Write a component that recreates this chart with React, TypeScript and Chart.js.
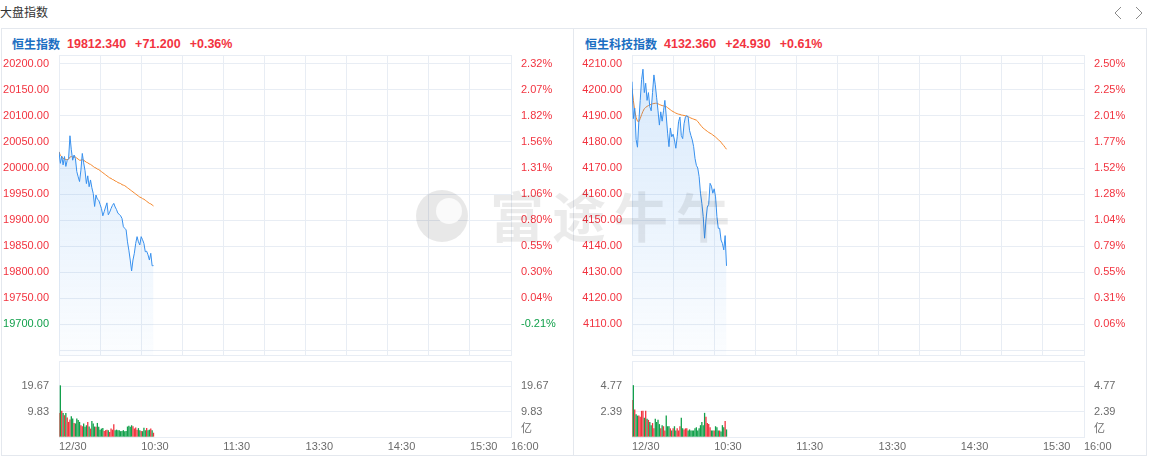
import React, { useEffect, useRef } from 'react';
import { Chart, registerables } from 'chart.js';

Chart.register(...registerables);

// ---------- shared axis data ----------
const sessionMinutes = 330; // 9:30-12:00 + 13:00-16:00
const gridStepMinutes = 30;
const timeTickMinutes = [0, 60, 120, 180, 240, 300, 330];
const timeTickLabels = ['12/30', '10:30', '11:30', '13:30', '14:30', '15:30', '16:00'];

// ---------- 恒生指数 ----------
const hsiName = '恒生指数';
const hsiLast = 19812.34;
const hsiChange = 71.2;
const hsiPriceTicks = [19700, 19750, 19800, 19850, 19900, 19950, 20000, 20050, 20100, 20150, 20200];
const hsiPriceMin = 19640.4;
const hsiPriceMax = 20217.3;
const hsiVolumeMax = 29.5;
const hsiPrice = [
  20031, 20009, 20023, 20006, 20022, 20003, 20015, 20018, 20062, 20035,
  20015, 20025, 20018, 19993, 19983, 19974, 19996, 20028, 20010, 19995,
  19970, 19985, 19964, 19977, 19962, 19951, 19926, 19948, 19940, 19938,
  19930, 19922, 19908, 19916, 19925, 19933, 19910, 19915, 19922, 19928,
  19932, 19925, 19920, 19913, 19911, 19908, 19903, 19887, 19884, 19881,
  19858, 19842, 19823, 19802, 19823, 19836, 19855, 19868, 19858, 19852,
  19868, 19862, 19855, 19839, 19840, 19833, 19823, 19836, 19812, 19812.34,
];
const hsiAvg = [
  20031, 20024, 20022, 20018, 20018, 20016, 20016, 20017, 20021, 20022,
  20021, 20021, 20021, 20019, 20017, 20015, 20015, 20016, 20015, 20013,
  20011, 20010, 20008, 20007, 20005, 20003, 20001, 20000, 19998, 19997,
  19995, 19993, 19991, 19989, 19987, 19985, 19983, 19981, 19980, 19978,
  19977, 19975, 19974, 19972, 19971, 19970, 19968, 19967, 19966, 19964,
  19962, 19960, 19958, 19956, 19954, 19952, 19950, 19948, 19946, 19944,
  19943, 19941, 19940, 19938, 19936, 19934, 19932, 19931, 19929, 19927,
];
const hsiVolume = [
  9.3, 20.0, 10.1, 9.3, 8.4, 9.3, 7.5, 5.8, 6.7, 8.0,
  7.1, 5.4, 5.2, 7.1, 6.5, 5.8, 4.5, 4.1, 5.2, 3.9,
  4.5, 5.8, 4.0, 3.2, 6.2, 5.2, 4.0, 3.9, 5.4, 3.9,
  2.8, 3.2, 3.4, 2.3, 2.6, 2.8, 2.6, 1.9, 3.2, 2.8,
  4.9, 2.6, 2.8, 2.6, 2.6, 2.2, 2.3, 2.6, 2.2, 2.3,
  4.0, 4.3, 3.9, 4.5, 4.1, 3.2, 3.6, 2.8, 3.4, 2.6,
  2.3, 2.2, 3.5, 2.6, 3.4, 2.6, 2.8, 3.2, 2.6, 1.6,
];

// ---------- 恒生科技指数 ----------
const hstName = '恒生科技指数';
const hstLast = 4132.36;
const hstChange = 24.93;
const hstPriceTicks = [4110, 4120, 4130, 4140, 4150, 4160, 4170, 4180, 4190, 4200, 4210];
const hstPriceMin = 4098.08;
const hstPriceMax = 4213.46;
const hstVolumeMax = 7.16;
const hstPrice = [
  4203.2, 4189, 4193, 4181, 4178, 4188, 4196, 4204, 4208, 4199,
  4202.6, 4196, 4199, 4193.6, 4192, 4199, 4205.8, 4202, 4197, 4192,
  4186.5, 4191.6, 4188, 4192, 4196, 4190, 4183.4, 4178.2, 4185.4, 4182,
  4183, 4180.8, 4177.6, 4182, 4187.8, 4189.6, 4182.5, 4181.3, 4187, 4189.6,
  4190.2, 4189.6, 4184.5, 4182.5, 4180.8, 4178.2, 4173.7, 4171, 4170, 4166.7,
  4160.3, 4156.4, 4151.3, 4143, 4150, 4155, 4156, 4164.1, 4163, 4160.3,
  4162, 4158.9, 4151.3, 4146.8, 4146.8, 4142.3, 4141, 4138.5, 4144, 4132.36,
];
const hstAvg = [
  4200.6, 4196, 4192, 4189.5, 4188, 4187.8, 4189, 4190.5, 4191.8, 4192.8,
  4193.3, 4193.7, 4194, 4194.3, 4194.5, 4194.7, 4194.8, 4194.9, 4194.9, 4194.7,
  4194.4, 4194.2, 4194, 4193.9, 4193.7, 4193.6, 4193.2, 4192.8, 4192.4, 4192,
  4191.7, 4191.4, 4191.1, 4190.9, 4190.7, 4190.6, 4190.4, 4190.3, 4190.2, 4190.1,
  4189.9, 4189.7, 4189.5, 4189.2, 4189, 4188.8, 4188.6, 4188.4, 4187.9, 4187.2,
  4186.5, 4185.9, 4185.3, 4184.9, 4184.5, 4184.1, 4183.7, 4183.4, 4183.1, 4182.7,
  4182.3, 4181.9, 4181.4, 4180.9, 4180.5, 4179.9, 4179.2, 4178.6, 4177.9, 4177.2,
];
const hstVolume = [
  3.46, 4.87, 2.58, 2.14, 2.0, 2.0, 1.9, 2.45, 2.45, 1.8,
  2.45, 1.7, 1.6, 1.4, 1.1, 1.3, 0.8, 1.7, 1.4, 1.6,
  1.2, 0.8, 1.1, 1.0, 0.6, 2.0, 1.0, 1.0, 0.8, 0.6,
  0.8, 1.0, 0.6, 0.8, 0.6, 1.0, 1.8, 0.8, 0.7, 0.8,
  0.8, 0.6, 0.7, 0.6, 0.6, 0.6, 0.8, 0.9, 0.6, 0.8,
  1.1, 1.4, 1.1, 2.26, 1.9, 1.3, 1.2, 0.9, 0.6, 0.6,
  0.6, 1.0, 0.9, 0.6, 0.6, 0.5, 1.1, 0.9, 1.5, 0.7,
];

// ---------- styles ----------
const RED = '#f2333f';
const GREEN = '#12a04b';
const BLUE_TEXT = '#1b6ec2';
const GRID = '#e8edf4';
const AXIS_GRAY = '#6b6b6b';
const LINE_BLUE = '#3790ee';
const LINE_ORANGE = '#f4862a';
const NUM_FONT = '"Liberation Sans", Arial, "Noto Sans CJK SC", sans-serif';
const CJK_FONT = '"Noto Sans CJK SC", "Liberation Sans", sans-serif';

const PANEL_W = 573;
const LEFT_AXIS_W = 59;
const RIGHT_AXIS_W = 62;

Chart.defaults.font.family = NUM_FONT;
Chart.defaults.font.size = 11;

const fixWidth = (w: number) => (s: any) => {
  s.width = w;
  s.paddingTop = 0;
  s.paddingBottom = 0;
  s.paddingLeft = 0;
  s.paddingRight = 0;
};
const fixHeight = (h: number) => (s: any) => {
  s.height = h;
  s.paddingTop = 0;
  s.paddingBottom = 0;
  s.paddingLeft = 0;
  s.paddingRight = 0;
};

type PanelProps = {
  left: number;
  name: string;
  last: number;
  change: number;
  price: number[];
  avg: number[];
  volume: number[];
  priceTicks: number[];
  priceMin: number;
  priceMax: number;
  volumeMax: number;
};

function Panel(p: PanelProps) {
  const priceRef = useRef<HTMLCanvasElement>(null);
  const volRef = useRef<HTMLCanvasElement>(null);
  const prevClose = p.last - p.change;
  const pctChange = (p.change / prevClose) * 100;

  useEffect(() => {
    const gridMinutes: number[] = [];
    for (let m = 0; m <= sessionMinutes; m += gridStepMinutes) gridMinutes.push(m);
    const step = p.priceTicks[1] - p.priceTicks[0];
    const priceAxisValues = [p.priceMin, p.priceTicks[0] - step, ...p.priceTicks, p.priceMax];
    const isEdge = (v: number) => v < p.priceTicks[0] - 1e-6 || v > p.priceTicks[p.priceTicks.length - 1] + 1e-6;
    const priceColor = (v: number) => (v >= prevClose ? RED : GREEN);

    const priceChart = new Chart(priceRef.current!, {
      type: 'line',
      data: {
        datasets: [
          {
            data: p.price.map((v, i) => ({ x: i, y: v })),
            borderColor: LINE_BLUE,
            borderWidth: 1,
            pointRadius: 0,
            tension: 0,
            fill: 'start',
            backgroundColor: (ctx: any) => {
              const area = ctx.chart.chartArea;
              if (!area) return 'rgba(55,144,238,0.1)';
              const g = ctx.chart.ctx.createLinearGradient(0, area.top, 0, area.bottom);
              g.addColorStop(0, 'rgba(55,144,238,0.2)');
              g.addColorStop(1, 'rgba(55,144,238,0.02)');
              return g;
            },
          },
          {
            data: p.avg.map((v, i) => ({ x: i, y: v })),
            borderColor: LINE_ORANGE,
            borderWidth: 1,
            pointRadius: 0,
            tension: 0,
            fill: false,
          },
        ],
      },
      options: {
        animation: false,
        responsive: false,
        maintainAspectRatio: false,
        events: [],
        layout: { autoPadding: false, padding: { top: 1, bottom: 2, left: 0, right: 0 } },
        plugins: { legend: { display: false }, tooltip: { enabled: false } },
        scales: {
          x: {
            type: 'linear',
            min: 0,
            max: sessionMinutes,
            afterBuildTicks: (s: any) => {
              s.ticks = gridMinutes.map((v) => ({ value: v }));
            },
            ticks: { display: false },
            grid: { color: GRID, drawTicks: false },
            border: { display: false },
            afterFit: fixHeight(0),
          },
          y: {
            position: 'left',
            min: p.priceMin,
            max: p.priceMax,
            afterBuildTicks: (s: any) => {
              s.ticks = priceAxisValues.map((v) => ({ value: v }));
            },
            ticks: {
              autoSkip: false,
              padding: 10,
              font: { size: 11 },
              color: (ctx: any) => priceColor(ctx.tick.value),
              callback: (v: any) => (isEdge(Number(v)) ? '' : Number(v).toFixed(2)),
            },
            grid: { color: GRID, drawTicks: false },
            border: { color: GRID },
            afterFit: fixWidth(LEFT_AXIS_W),
          },
          yR: {
            position: 'right',
            min: p.priceMin,
            max: p.priceMax,
            afterBuildTicks: (s: any) => {
              s.ticks = priceAxisValues.map((v) => ({ value: v }));
            },
            ticks: {
              autoSkip: false,
              padding: 10,
              font: { size: 11 },
              color: (ctx: any) => priceColor(ctx.tick.value),
              callback: (v: any) =>
                isEdge(Number(v)) ? '' : ((Number(v) / prevClose - 1) * 100).toFixed(2) + '%',
            },
            grid: { display: false, drawTicks: false },
            border: { color: GRID },
            afterFit: fixWidth(RIGHT_AXIS_W),
          },
        },
      } as any,
    });

    const barColors = p.volume.map((_, i) => {
      const prev = i === 0 ? prevClose : p.price[i - 1];
      return p.price[i] >= prev ? RED : GREEN;
    });
    const volTicks = [0, p.volumeMax / 3, (p.volumeMax * 2) / 3, p.volumeMax];
    const unitTick = p.volumeMax * 0.105;

    const volChart = new Chart(volRef.current!, {
      type: 'bar',
      data: {
        datasets: [
          {
            data: p.volume.map((v, i) => ({ x: i, y: v })),
            backgroundColor: barColors,
            borderWidth: 0,
            barThickness: 1,
            inflateAmount: 0.15,
          },
        ],
      },
      options: {
        animation: false,
        responsive: false,
        maintainAspectRatio: false,
        events: [],
        layout: { autoPadding: false, padding: { top: 1, bottom: 0, left: 0, right: 0 } },
        plugins: { legend: { display: false }, tooltip: { enabled: false } },
        scales: {
          x: {
            type: 'linear',
            min: 0,
            max: sessionMinutes,
            offset: false,
            afterBuildTicks: (s: any) => {
              s.ticks = timeTickMinutes.map((v) => ({ value: v }));
            },
            ticks: {
              align: 'start',
              autoSkip: false,
              maxRotation: 0,
              minRotation: 0,
              padding: 3,
              color: AXIS_GRAY,
              font: { size: 11 },
              callback: (v: any) => timeTickLabels[timeTickMinutes.indexOf(Number(v))] ?? '',
            },
            grid: { display: false, drawTicks: false, offset: false },
            border: { color: GRID },
            afterFit: fixHeight(19),
          },
          y: {
            position: 'left',
            min: 0,
            max: p.volumeMax,
            afterBuildTicks: (s: any) => {
              s.ticks = volTicks.map((v) => ({ value: v }));
            },
            ticks: {
              autoSkip: false,
              padding: 10,
              color: AXIS_GRAY,
              font: { size: 11 },
              callback: (v: any) =>
                Number(v) === 0 || Math.abs(Number(v) - p.volumeMax) < 1e-9 ? '' : Number(v).toFixed(2),
            },
            grid: { color: GRID, drawTicks: false },
            border: { color: GRID },
            afterFit: fixWidth(LEFT_AXIS_W),
          },
          yR: {
            position: 'right',
            min: 0,
            max: p.volumeMax,
            afterBuildTicks: (s: any) => {
              s.ticks = [unitTick, volTicks[1], volTicks[2]].map((v) => ({ value: v }));
            },
            ticks: {
              autoSkip: false,
              padding: 10,
              color: AXIS_GRAY,
              font: { size: 11, family: NUM_FONT },
              callback: (v: any) => (Math.abs(Number(v) - unitTick) < 1e-9 ? '亿' : Number(v).toFixed(2)),
            },
            grid: { display: false, drawTicks: false },
            border: { color: GRID },
            afterFit: fixWidth(RIGHT_AXIS_W),
          },
        },
      } as any,
    });

    return () => {
      priceChart.destroy();
      volChart.destroy();
    };
  }, []);

  return (
    <div style={{ position: 'absolute', left: p.left, top: 0, width: PANEL_W, height: 456 }}>
      <div
        style={{
          position: 'absolute',
          left: 12,
          top: 36,
          height: 16,
          lineHeight: '16px',
          display: 'flex',
          alignItems: 'center',
          whiteSpace: 'nowrap',
          fontWeight: 700,
        }}
      >
        <span style={{ fontFamily: CJK_FONT, fontSize: 12, color: BLUE_TEXT }}>{p.name}</span>
        <span style={{ fontFamily: NUM_FONT, fontSize: 12.5, color: RED, marginLeft: 7 }}>{p.last.toFixed(3)}</span>
        <span style={{ fontFamily: NUM_FONT, fontSize: 12.5, color: RED, marginLeft: 9 }}>
          {'+' + p.change.toFixed(3)}
        </span>
        <span style={{ fontFamily: NUM_FONT, fontSize: 12.5, color: RED, marginLeft: 9 }}>
          {'+' + pctChange.toFixed(2) + '%'}
        </span>
      </div>
      <canvas
        ref={priceRef}
        width={PANEL_W}
        height={303}
        style={{ position: 'absolute', left: 0, top: 54, width: PANEL_W, height: 303 }}
      />
      <canvas
        ref={volRef}
        width={PANEL_W}
        height={96}
        style={{ position: 'absolute', left: 0, top: 360, width: PANEL_W, height: 96 }}
      />
    </div>
  );
}

export default function App() {
  return (
    <div
      style={{
        position: 'fixed',
        left: 0,
        top: 0,
        width: 1149,
        height: 456,
        background: '#fff',
        overflow: 'hidden',
        fontFamily: CJK_FONT,
      }}
    >
      <div style={{ position: 'absolute', left: 0, top: 4, fontSize: 12, lineHeight: '16px', color: '#333' }}>大盘指数</div>
      <svg style={{ position: 'absolute', left: 1110, top: 4 }} width={36} height={18}>
        <polyline points="11,3 5,9 11,15" fill="none" stroke="#8a8a8a" strokeWidth={1} />
        <polyline points="26,3 32,9 26,15" fill="none" stroke="#8a8a8a" strokeWidth={1} />
      </svg>
      <div
        style={{
          position: 'absolute',
          left: 1,
          top: 28,
          width: 1146,
          height: 428,
          border: '1px solid #e4e8ee',
          boxSizing: 'border-box',
        }}
      />
      <div style={{ position: 'absolute', left: 573, top: 28, width: 1, height: 428, background: '#e4e8ee' }} />
      <Panel
        left={0}
        name={hsiName}
        last={hsiLast}
        change={hsiChange}
        price={hsiPrice}
        avg={hsiAvg}
        volume={hsiVolume}
        priceTicks={hsiPriceTicks}
        priceMin={hsiPriceMin}
        priceMax={hsiPriceMax}
        volumeMax={hsiVolumeMax}
      />
      <Panel
        left={PANEL_W}
        name={hstName}
        last={hstLast}
        change={hstChange}
        price={hstPrice}
        avg={hstAvg}
        volume={hstVolume}
        priceTicks={hstPriceTicks}
        priceMin={hstPriceMin}
        priceMax={hstPriceMax}
        volumeMax={hstVolumeMax}
      />
      {/* watermark */}
      <div style={{ position: 'absolute', left: 416, top: 190, width: 52, height: 52, pointerEvents: 'none', zIndex: 5 }}>
        <div
          style={{
            position: 'absolute',
            left: 0,
            top: 0,
            width: 52,
            height: 52,
            borderRadius: '50%',
            background: 'rgba(0,0,0,0.09)',
          }}
        />
        <div
          style={{
            position: 'absolute',
            left: 20,
            top: 8,
            width: 26,
            height: 26,
            borderRadius: '50%',
            background: 'rgba(255,255,255,0.75)',
          }}
        />
      </div>
      <div
        style={{
          position: 'absolute',
          left: 490,
          top: 180,
          fontSize: 54,
          lineHeight: '70px',
          letterSpacing: 8,
          fontWeight: 700,
          color: 'rgba(0,0,0,0.08)',
          fontFamily: CJK_FONT,
          pointerEvents: 'none',
          whiteSpace: 'nowrap',
          zIndex: 5,
        }}
      >
        富途牛牛
      </div>
    </div>
  );
}
